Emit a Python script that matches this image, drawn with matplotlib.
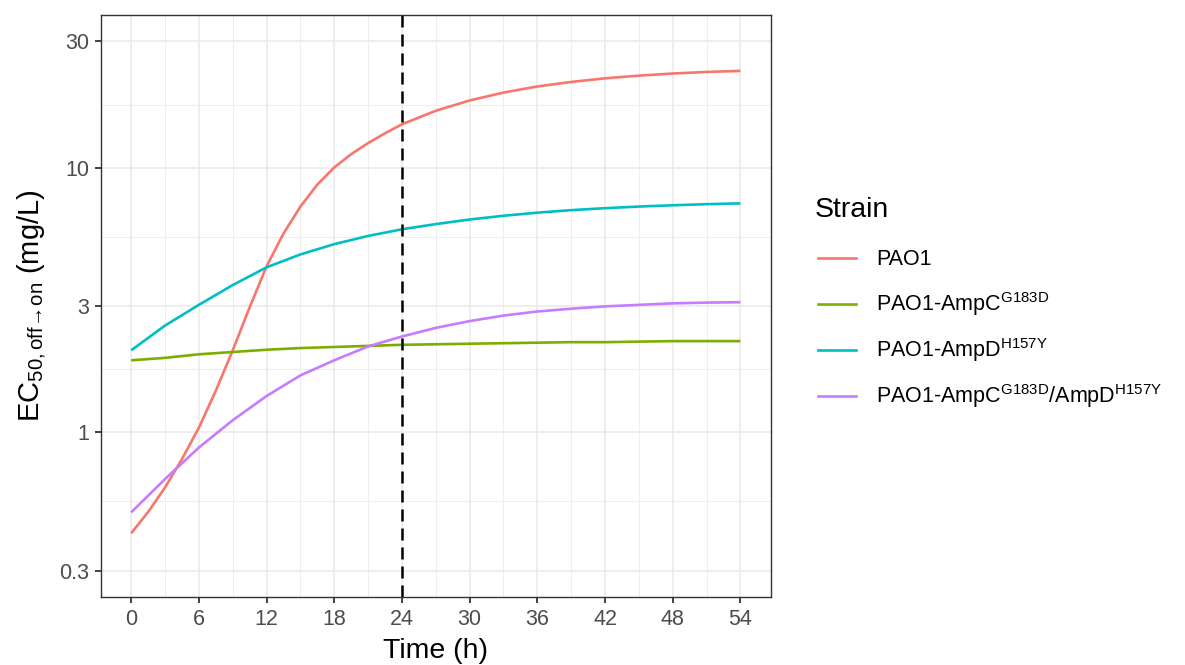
import numpy as np
import matplotlib
matplotlib.use("Agg")
import matplotlib.pyplot as plt
from matplotlib.ticker import FixedLocator, NullFormatter
from matplotlib.lines import Line2D

plt.rcParams['font.family'] = ['Liberation Sans', 'DejaVu Sans']
plt.rcParams['mathtext.fontset'] = 'custom'
plt.rcParams['mathtext.rm'] = 'Liberation Sans'
plt.rcParams['mathtext.it'] = 'Liberation Sans:italic'
plt.rcParams['mathtext.bf'] = 'Liberation Sans:bold'

# ---- data ----
strains = ["PAO1", "PAO1-AmpC$^{\\mathrm{G183D}}$", "PAO1-AmpD$^{\\mathrm{H157Y}}$",
           "PAO1-AmpC$^{\\mathrm{G183D}}$/AmpD$^{\\mathrm{H157Y}}$"]
colors = ["#F8766D", "#7CAE00", "#00BFC4", "#C77CFF"]

time_pao1 = [0, 1.5, 3, 4.5, 6, 7.5, 9, 10.5, 12, 13.5, 15, 16.5, 18, 19.5, 21, 22.5,
             24, 27, 30, 33, 36, 39, 42, 45, 48, 51, 54]
ec50_pao1 = [0.415, 0.499, 0.618, 0.791, 1.04, 1.435, 2.04, 2.965, 4.236, 5.636, 7.129,
             8.63, 10.02, 11.25, 12.39, 13.49, 14.59, 16.41, 17.95, 19.23, 20.28, 21.09,
             21.77, 22.28, 22.70, 23.01, 23.23]

time_3h = [0, 3, 6, 9, 12, 15, 18, 21, 24, 27, 30, 33, 36, 39, 42, 45, 48, 51, 54]
ec50_ampc = [1.87, 1.91, 1.97, 2.01, 2.05, 2.08, 2.10, 2.12, 2.14, 2.15, 2.16, 2.17,
             2.18, 2.19, 2.19, 2.20, 2.21, 2.21, 2.21]
ec50_ampd = [2.04, 2.53, 3.03, 3.60, 4.20, 4.70, 5.14, 5.52, 5.85, 6.12, 6.37, 6.58,
             6.76, 6.91, 7.03, 7.13, 7.21, 7.28, 7.33]
ec50_double = [0.498, 0.665, 0.875, 1.11, 1.37, 1.64, 1.87, 2.11, 2.30, 2.48, 2.63,
               2.76, 2.86, 2.93, 2.99, 3.03, 3.07, 3.09, 3.10]

series = [(time_pao1, ec50_pao1), (time_3h, ec50_ampc), (time_3h, ec50_ampd),
          (time_3h, ec50_double)]

x_ticks = [0, 6, 12, 18, 24, 30, 36, 42, 48, 54]
x_minor = [3, 9, 15, 21, 27, 33, 39, 45, 51]
y_ticks = [0.3, 1, 3, 10, 30]
y_labels = ["0.3", "1", "3", "10", "30"]
vline_t = 24

# ---- figure ----
W, H = 1185, 665
fig = plt.figure(figsize=(W / 100, H / 100), dpi=100)
ax = fig.add_axes([0.085, 0.1023, 0.5655, 0.8751])

grid_col = "#EBEBEB"
ax.set_yscale("log")
lo, hi = np.log10(0.3), np.log10(30)
pad = 0.05 * (hi - lo)
ax.set_ylim(10 ** (lo - pad), 10 ** (hi + pad))
ax.set_xlim(-2.7, 56.7)

ax.set_xticks(x_ticks)
ax.xaxis.set_minor_locator(FixedLocator(x_minor))
ax.set_yticks(y_ticks)
ax.set_yticklabels(y_labels)
y_minor = [10 ** ((np.log10(a) + np.log10(b)) / 2) for a, b in zip(y_ticks[:-1], y_ticks[1:])]
ax.yaxis.set_minor_locator(FixedLocator(y_minor))
ax.yaxis.set_minor_formatter(NullFormatter())

ax.grid(True, which="major", color=grid_col, lw=1.2)
ax.grid(True, which="minor", color=grid_col, lw=0.6)
ax.set_axisbelow(True)

ax.tick_params(which="major", length=4.5, width=1.3, color="#333333",
               labelsize=15.5, labelcolor="#4D4D4D", pad=4)
ax.tick_params(which="minor", length=0)
for s in ax.spines.values():
    s.set_color("#333333")
    s.set_linewidth(1.0)

for (t, v), c, lab in zip(series, colors, strains):
    ax.plot(t, v, color=c, lw=1.9, label=lab, solid_capstyle="butt",
            solid_joinstyle="round")

ax.axvline(vline_t, color="black", lw=1.8, linestyle=(0, (4.8, 2.8)))

ax.set_xlabel("Time (h)", fontsize=20.5, labelpad=6)
ax.set_ylabel(r"EC$_{50,\mathrm{off}\!\rightarrow\!\mathrm{on}}$ (mg/L)", fontsize=21,
              labelpad=8)

# ---- legend drawn manually (pixel positions) ----
def fx(px):
    return px / W

def fy(py):
    return 1 - py / H

fig.text(fx(815), fy(217), "Strain", fontsize=20.5, va="baseline", ha="left")
row_y = [257.5, 303.5, 349.5, 395.5]
for yy, c, lab in zip(row_y, colors, strains):
    fig.add_artist(Line2D([fx(818), fx(856)], [fy(yy), fy(yy)], color=c, lw=1.9,
                          transform=fig.transFigure))
    fig.text(fx(876), fy(yy + 7.7), lab, fontsize=15.5, va="baseline", ha="left")

fig.savefig("out.png", dpi=100)
